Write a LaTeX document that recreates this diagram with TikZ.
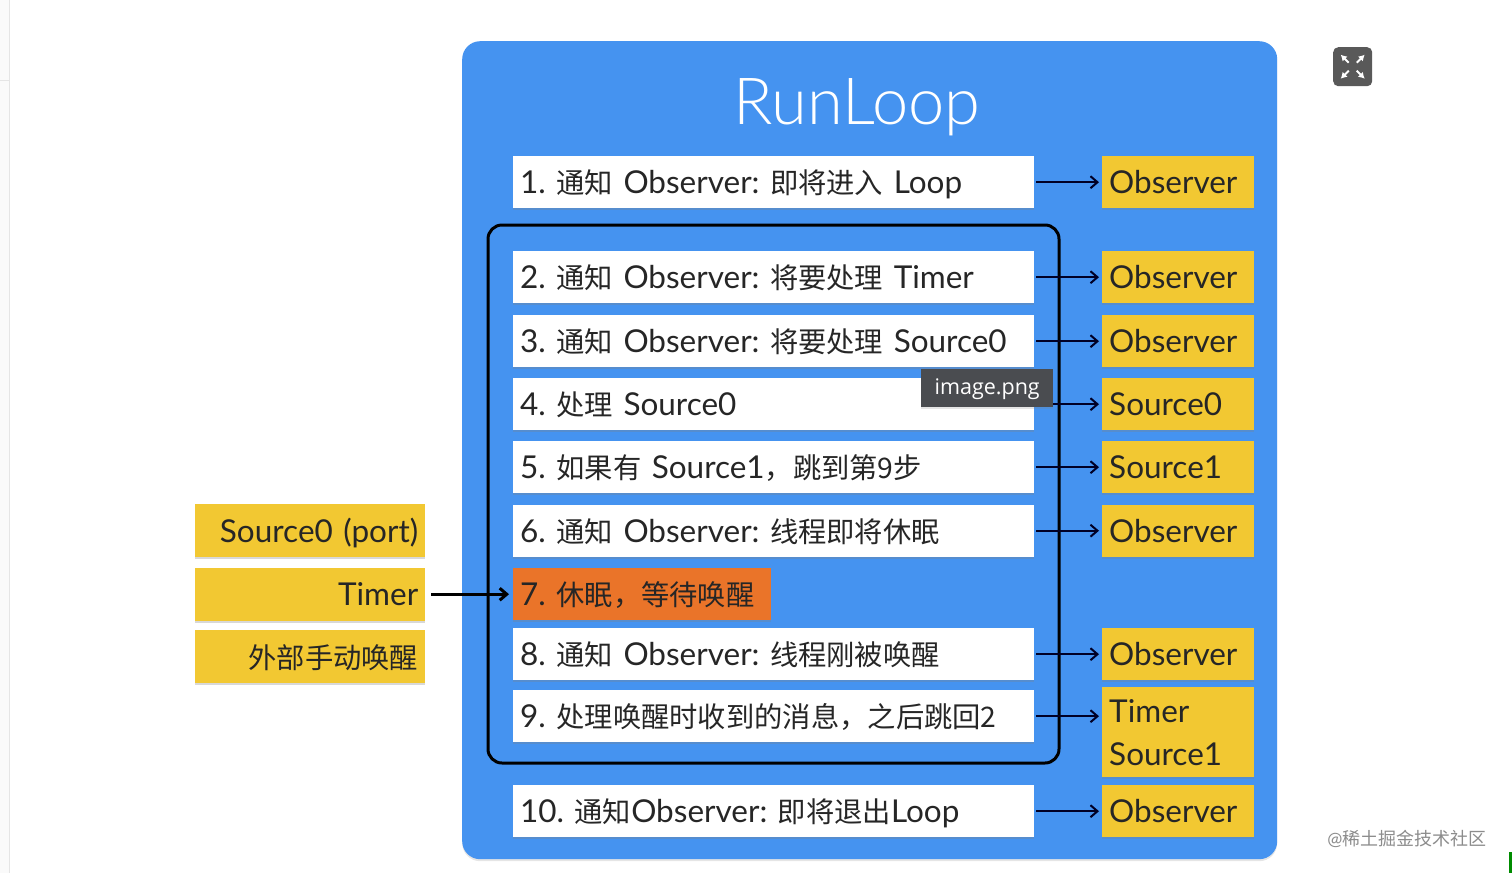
\documentclass[tikz,border=0pt]{standalone}
\usepackage{fontspec}
\setmainfont[WordSpace=0.65]{Lato}
\newfontfamily\titlefont{Lato Light}
\newfontfamily\tipfont{Open Sans}
\newfontfamily\cjk{Noto Sans CJK SC}
\newcommand{\zh}[1]{{\cjk\fontsize{28.3}{43}\selectfont #1}}
\usepackage{tikz}
\usetikzlibrary{arrows.meta}
\usetikzlibrary{shadows}
\definecolor{loopblue}{HTML}{4593F0}
\definecolor{boxyellow}{HTML}{F2C832}
\definecolor{sleeporange}{HTML}{EA7429}
\definecolor{tipgrey}{HTML}{4A4C50}
\definecolor{inkgrey}{HTML}{262626}

\begin{document}
\frenchspacing
\begin{tikzpicture}[
            x=1pt, y=-1pt,
            base box/.style={anchor=north west, inner xsep=7pt, inner ysep=0pt, text=inkgrey, text height=23pt, text depth=0pt,
                font=\fontsize{31.5}{43}\selectfont, drop shadow={shadow xshift=0pt, shadow yshift=-2pt, opacity=0.3}},
            step box/.style={base box, fill=white, align=left, text width=507pt, minimum height=52pt},
            sleep box/.style={base box, fill=sleeporange, align=left, text width=244pt, minimum height=52pt},
            out box/.style={base box, fill=boxyellow, align=left, text width=138pt, minimum height=52pt},
            wake box/.style={base box, fill=boxyellow, align=right, text width=216pt, minimum height=53pt},
            flow/.style={-{Straight Barb[length=7pt,width=12pt]}, line width=2pt, draw=black!85!blue, shorten <=2pt, shorten >=3pt},
            icon arrow/.style={white, line width=2pt, -{Latex[length=6pt,width=7pt]}},
            ]
            \useasboundingbox (0,0) rectangle (1512,873);
            \fill[white] (0,0) rectangle (1512,873);
            \fill[black!2] (0,0) rectangle (9,873);
            \draw[black!10] (9,0) -- (9,873);
            \draw[black!10] (0,80) -- (9,80);
            \fill[green!55!black] (1509,852) rectangle (1512,873);

            \node[fill=loopblue, rounded corners=18pt, anchor=north west, minimum width=815pt, minimum height=818pt,
                drop shadow={shadow xshift=0pt, shadow yshift=-2pt, opacity=0.2}] (panel) at (462,41) {};
            \node[text=white, font=\titlefont\fontsize{65}{72}\selectfont] (title) at (857,107) {RunLoop};

            \node[step box] (s1) at (513,156) {1. \zh{通知} Observer: \zh{即将进入} Loop};
            \node[step box] (s2) at (513,251) {2. \zh{通知} Observer: \zh{将要处理} Timer};
            \node[step box] (s3) at (513,315) {3. \zh{通知} Observer: \zh{将要处理} Source0};
            \node[step box] (s4) at (513,378) {4. \zh{处理} Source0};
            \node[step box] (s5) at (513,441) {5. \zh{如果有} Source1\zh{，跳到第9步}};
            \node[step box] (s6) at (513,504.5) {6. \zh{通知} Observer: \zh{线程即将休眠}};
            \node[sleep box] (s7) at (513,568) {7. \zh{休眠，等待唤醒}};
            \node[step box] (s8) at (513,628) {8. \zh{通知} Observer: \zh{线程刚被唤醒}};
            \node[step box] (s9) at (513,690) {9. \zh{处理唤醒时收到的消息，之后跳回2}};
            \node[step box] (s10) at (513,785) {10. \zh{通知}Observer: \zh{即将退出}Loop};

            \node[out box] (o1) at (1102,156) {Observer};
            \node[out box] (o2) at (1102,251) {Observer};
            \node[out box] (o3) at (1102,315) {Observer};
            \node[out box] (o4) at (1102,378) {Source0};
            \node[out box] (o5) at (1102,441) {Source1};
            \node[out box] (o6) at (1102,504.5) {Observer};
            \node[out box] (o8) at (1102,628) {Observer};
            \node[out box, minimum height=90pt, text height=, text depth=] (o9) at (1102,687) {Timer\\Source1};
            \node[out box] (o10) at (1102,785) {Observer};

            \node[wake box] (w1) at (195,504) {Source0 (port)};
            \node[wake box] (w2) at (195,567.5) {Timer};
            \node[wake box] (w3) at (195,630) {\zh{外部手动唤醒}};

            \draw[line width=3pt, rounded corners=14pt] (488,225) rectangle (1059,763);

            \draw[flow] (s1) -- (o1);
            \draw[flow] (s2) -- (o2);
            \draw[flow] (s3) -- (o3);
            \draw[flow] (s4) -- (o4);
            \draw[flow] (s5) -- (o5);
            \draw[flow] (s6) -- (o6);
            \draw[flow] (s8) -- (o8);
            \draw[flow] (s9.east) -- (s9.east -| o9.west);
            \draw[flow] (s10) -- (o10);
            \draw[flow, draw=black, line width=3pt, shorten <=6pt, shorten >=4pt] (w2) -- (s7);

            \node[fill=tipgrey, text=white, anchor=north west, minimum width=132pt, minimum height=38pt, inner sep=0pt,
                text height=13pt, text depth=0pt,
                font=\tipfont\fontsize{21.5}{24}\selectfont, drop shadow={shadow xshift=0pt, shadow yshift=-2pt, opacity=0.2}] (tip) at (921,369) {image.png};

            \node[fill=black!65, rounded corners=5pt, anchor=north west, minimum size=39pt, inner sep=0pt] (icon) at (1333,47) {};
            \draw[icon arrow] ([shift={(-4,-4)}]icon.center) -- ([shift={(-12,-12)}]icon.center);
            \draw[icon arrow] ([shift={(4,-4)}]icon.center) -- ([shift={(12,-12)}]icon.center);
            \draw[icon arrow] ([shift={(-4,4)}]icon.center) -- ([shift={(-12,12)}]icon.center);
            \draw[icon arrow] ([shift={(4,4)}]icon.center) -- ([shift={(12,12)}]icon.center);

            \node[text=black!45, font=\fontsize{18}{20}\selectfont, anchor=east] (mark) at (1490,839) {@\zh{\fontsize{18}{20}\selectfont 稀土掘金技术社区}};
        \end{tikzpicture}
\end{document}
